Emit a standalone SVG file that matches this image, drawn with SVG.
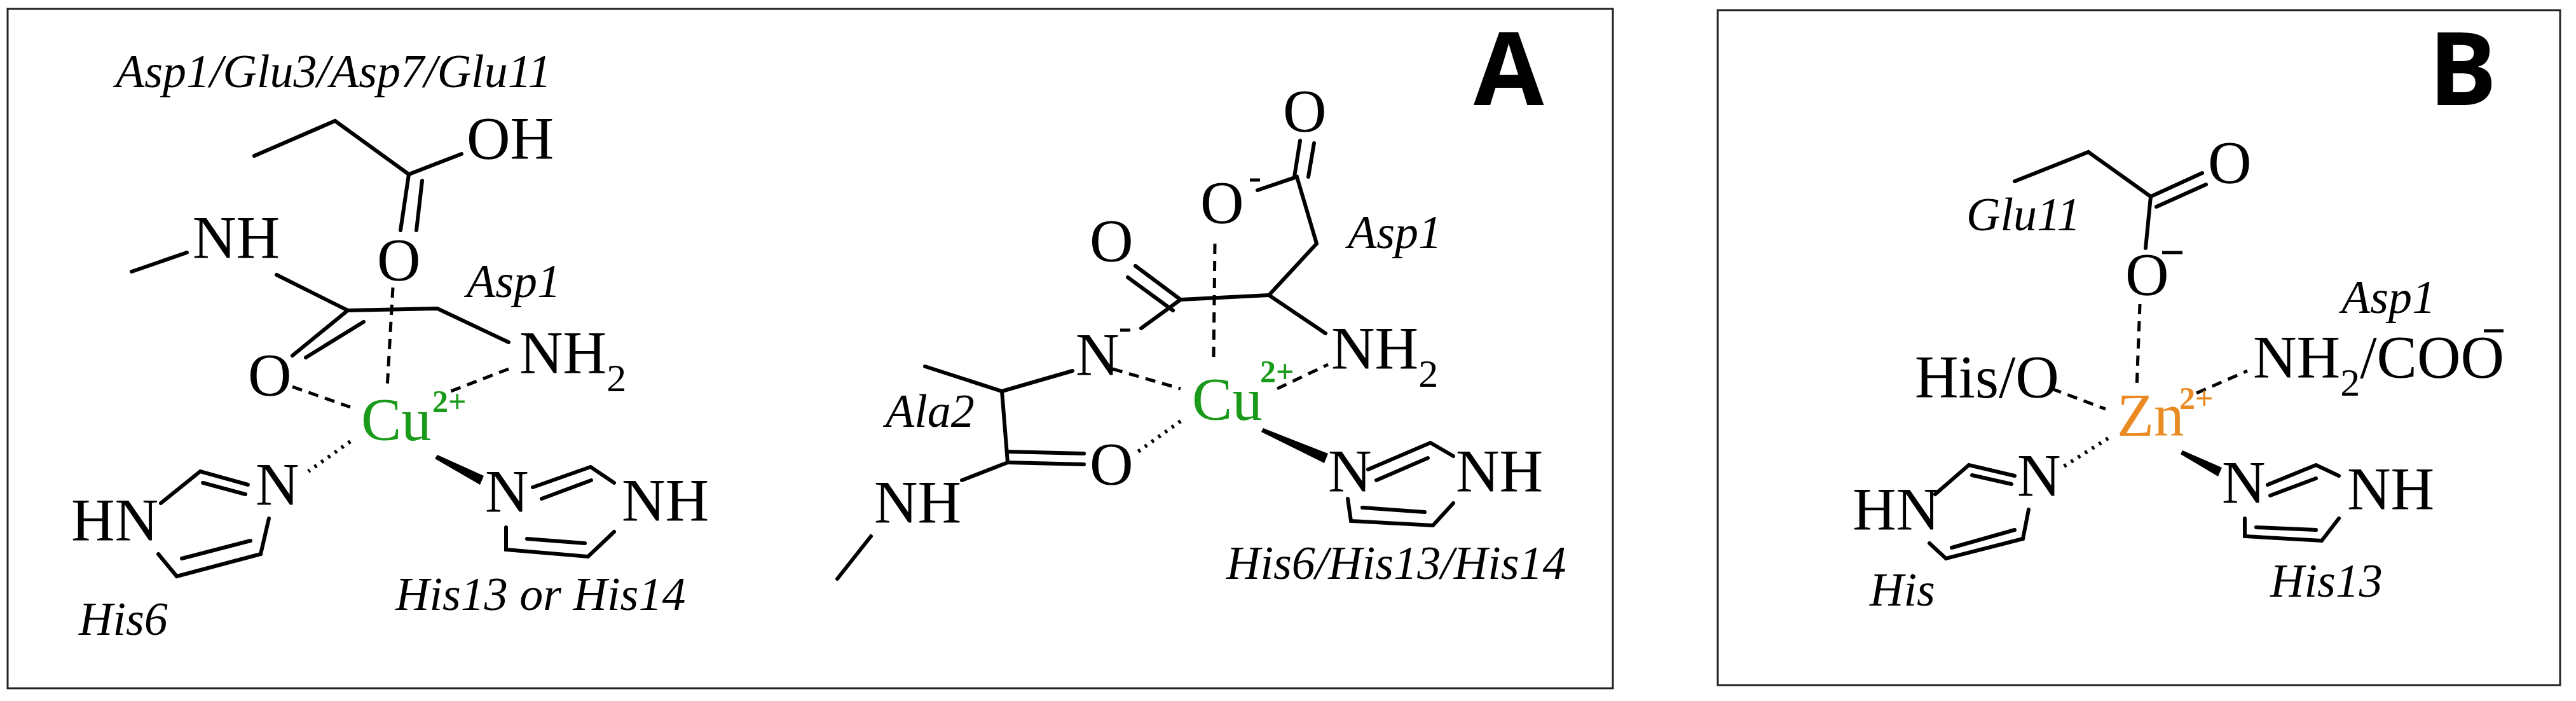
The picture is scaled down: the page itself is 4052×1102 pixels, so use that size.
<svg xmlns="http://www.w3.org/2000/svg" width="4052" height="1102" viewBox="0 0 4052 1102">
<style>
.b{stroke:#000;stroke-width:6;fill:none;stroke-linecap:round}
.d{stroke:#000;stroke-width:5;fill:none;stroke-dasharray:16 11}
.h{stroke:#000;stroke-width:6;fill:none;stroke-dasharray:4 9}
.box{fill:#fff;stroke:#222;stroke-width:3}
.at{font-family:"Liberation Serif",serif;font-size:95px;fill:#000}
.sub{font-family:"Liberation Serif",serif;font-size:62px}
.it{font-family:"Liberation Serif",serif;font-style:italic;font-size:74px;fill:#000}
.cu{font-family:"Liberation Serif",serif;font-size:95px;fill:#1a9a1a}
.zn{font-family:"Liberation Serif",serif;font-size:95px;fill:#ea8a22}
.sup{font-family:"Liberation Serif",serif;font-size:50px;font-weight:bold}
.lab{font-family:"Open Sans","Liberation Sans",sans-serif;font-weight:bold;font-size:160px;fill:#000}
</style>
<rect width="4052" height="1102" fill="#fff"/>
<rect class="box" x="12" y="14" width="2525" height="1068"/>
<rect class="box" x="2702" y="16" width="1325" height="1061"/>
<text class="lab" x="2318" y="165">A</text>
<text class="lab" x="3820" y="165">B</text>

<g id="connectors">
<!-- structure 1 -->
<polyline class="b" points="400,245 527,190 643,274 726,242"/>
<line class="b" x1="643" y1="274" x2="630" y2="362"/><line class="b" x1="664" y1="284" x2="655" y2="362"/>
<line class="b" x1="207" y1="427" x2="294" y2="397"/>
<polyline class="b" points="435,432 547,488 688,485 800,538"/>
<line class="b" x1="547" y1="488" x2="460" y2="559"/><line class="b" x1="572" y1="506" x2="481" y2="562"/>
<line class="d" x1="618" y1="452" x2="609" y2="610"/>
<line class="d" x1="460" y1="608" x2="551" y2="640"/>
<line class="d" x1="800" y1="580" x2="709" y2="615"/>
<line class="h" x1="551" y1="694" x2="485" y2="741"/>
<polygon points="688,715 684,721 755,762 761,748" fill="#000"/>
<polyline class="b" points="253,791 315,741 390,762"/><line class="b" x1="319" y1="759" x2="386" y2="777"/>
<polyline class="b" points="423,815 410,871 278,906 249,871"/><line class="b" x1="286" y1="878" x2="394" y2="850"/>
<polyline class="b" points="838,766 929,734 966,759"/><line class="b" x1="852" y1="784" x2="930" y2="755"/>
<polyline class="b" points="796,829 796,864 925,875 966,836"/><line class="b" x1="829" y1="847" x2="920" y2="854"/>
<!-- structure 2 -->
<line class="b" x1="2045" y1="221" x2="2036" y2="278"/><line class="b" x1="2067" y1="225" x2="2058" y2="278"/>
<polyline class="b" points="1978,299 2040,278 2071,383 1996,464 2085,524"/>
<line class="b" x1="1996" y1="464" x2="1857" y2="471"/>
<line class="b" x1="1857" y1="471" x2="1786" y2="418"/><line class="b" x1="1845" y1="488" x2="1774" y2="436"/>
<line class="b" x1="1857" y1="471" x2="1795" y2="516"/>
<line class="d" x1="1911" y1="383" x2="1909" y2="562"/>
<polyline class="b" points="1687,583 1576,615 1455,576"/>
<polyline class="b" points="1576,615 1585,727 1513,755"/>
<line class="b" x1="1585" y1="710" x2="1705" y2="713"/><line class="b" x1="1585" y1="727" x2="1705" y2="730"/>
<line class="b" x1="1370" y1="843" x2="1317" y2="910"/>
<line class="d" x1="1750" y1="580" x2="1857" y2="611"/>
<line class="d" x1="2009" y1="611" x2="2089" y2="573"/>
<line class="h" x1="1857" y1="662" x2="1790" y2="710"/>
<polygon points="1987,673 1984,679 2083,728 2089,713" fill="#000"/>
<polyline class="b" points="2152,738 2250,696 2286,717"/><line class="b" x1="2165" y1="755" x2="2246" y2="720"/>
<polyline class="b" points="2120,784 2125,819 2254,826 2286,791"/><line class="b" x1="2143" y1="798" x2="2241" y2="805"/>
<!-- structure B -->
<polyline class="b" points="3169,285 3285,239 3383,309 3375,390"/>
<line class="b" x1="3383" y1="309" x2="3464" y2="272"/><line class="b" x1="3392" y1="325" x2="3470" y2="290"/>
<line class="d" x1="3366" y1="478" x2="3361" y2="611"/>
<line class="d" x1="3227" y1="611" x2="3312" y2="643"/>
<line class="d" x1="3455" y1="618" x2="3535" y2="583"/>
<line class="h" x1="3316" y1="689" x2="3245" y2="734"/>
<polygon points="3433,708 3430,714 3489,749 3495,735" fill="#000"/>
<polyline class="b" points="3044,777 3097,731 3169,748"/><line class="b" x1="3102" y1="747" x2="3164" y2="761"/>
<polyline class="b" points="3191,801 3182,847 3061,878 3035,854"/><line class="b" x1="3070" y1="861" x2="3169" y2="833"/>
<polyline class="b" points="3567,762 3643,731 3679,748"/><line class="b" x1="3571" y1="779" x2="3643" y2="752"/>
<polyline class="b" points="3531,815 3531,843 3652,850 3679,815"/><line class="b" x1="3549" y1="829" x2="3643" y2="833"/>
</g>

<g id="s1">
<text class="it" x="182" y="137">Asp1/Glu3/Asp7/Glu11</text>
<text class="at" x="734" y="250">OH</text>
<text class="at" x="593" y="441">O</text>
<text class="at" x="303" y="406">NH</text>
<text class="it" x="734" y="467">Asp1</text>
<text class="at" x="390" y="622">O</text>
<text class="at" x="817" y="587">NH<tspan class="sub" dy="28">2</tspan></text>
<text class="cu" x="568" y="692">Cu<tspan class="sup" x="680" y="648">2+</tspan></text>
<text class="at" x="402" y="794">N</text>
<text class="at" x="112" y="850">HN</text>
<text class="it" x="124" y="998">His6</text>
<text class="at" x="763" y="805">N</text>
<text class="at" x="978" y="819">NH</text>
<text class="it" x="622" y="959">His13 or His14</text>
</g>

<g id="s2">
<text class="at" x="2018" y="207">O</text>
<text class="at" x="1888" y="351">O</text>
<line x1="1966" y1="283" x2="1982" y2="283" stroke="#000" stroke-width="5"/>
<text class="it" x="2120" y="390">Asp1</text>
<text class="at" x="1714" y="411">O</text>
<text class="at" x="1692" y="590">N</text>
<line x1="1762" y1="519" x2="1778" y2="519" stroke="#000" stroke-width="5"/>
<text class="at" x="2094" y="580">NH<tspan class="sub" dy="28">2</tspan></text>
<text class="it" x="1393" y="671">Ala2</text>
<text class="cu" x="1875" y="660">Cu<tspan class="sup" x="1982" y="601">2+</tspan></text>
<text class="at" x="1714" y="762">O</text>
<text class="at" x="1375" y="822">NH</text>
<text class="at" x="2089" y="773">N</text>
<text class="at" x="2290" y="773">NH</text>
<text class="it" x="1929" y="910">His6/His13/His14</text>
</g>

<g id="sB">
<text class="at" x="3473" y="288">O</text>
<text class="it" x="3093" y="362">Glu11</text>
<text class="at" x="3343" y="464">O</text>
<line x1="3401" y1="397" x2="3433" y2="397" stroke="#000" stroke-width="5"/>
<text class="it" x="3683" y="492">Asp1</text>
<text class="at" x="3012" y="625">His/O</text>
<text class="at" x="3544" y="594">NH<tspan class="sub" dy="28">2</tspan><tspan dy="-28">/COO</tspan></text>
<line x1="3907" y1="520" x2="3938" y2="520" stroke="#000" stroke-width="5"/>
<text class="zn" x="3330" y="685">Zn<tspan class="sup" x="3428" y="643">2+</tspan></text>
<text class="at" x="3173" y="780">N</text>
<text class="at" x="2914" y="833">HN</text>
<text class="it" x="2941" y="952">His</text>
<text class="at" x="3495" y="791">N</text>
<text class="at" x="3692" y="801">NH</text>
<text class="it" x="3571" y="938">His13</text>
</g>
</svg>
